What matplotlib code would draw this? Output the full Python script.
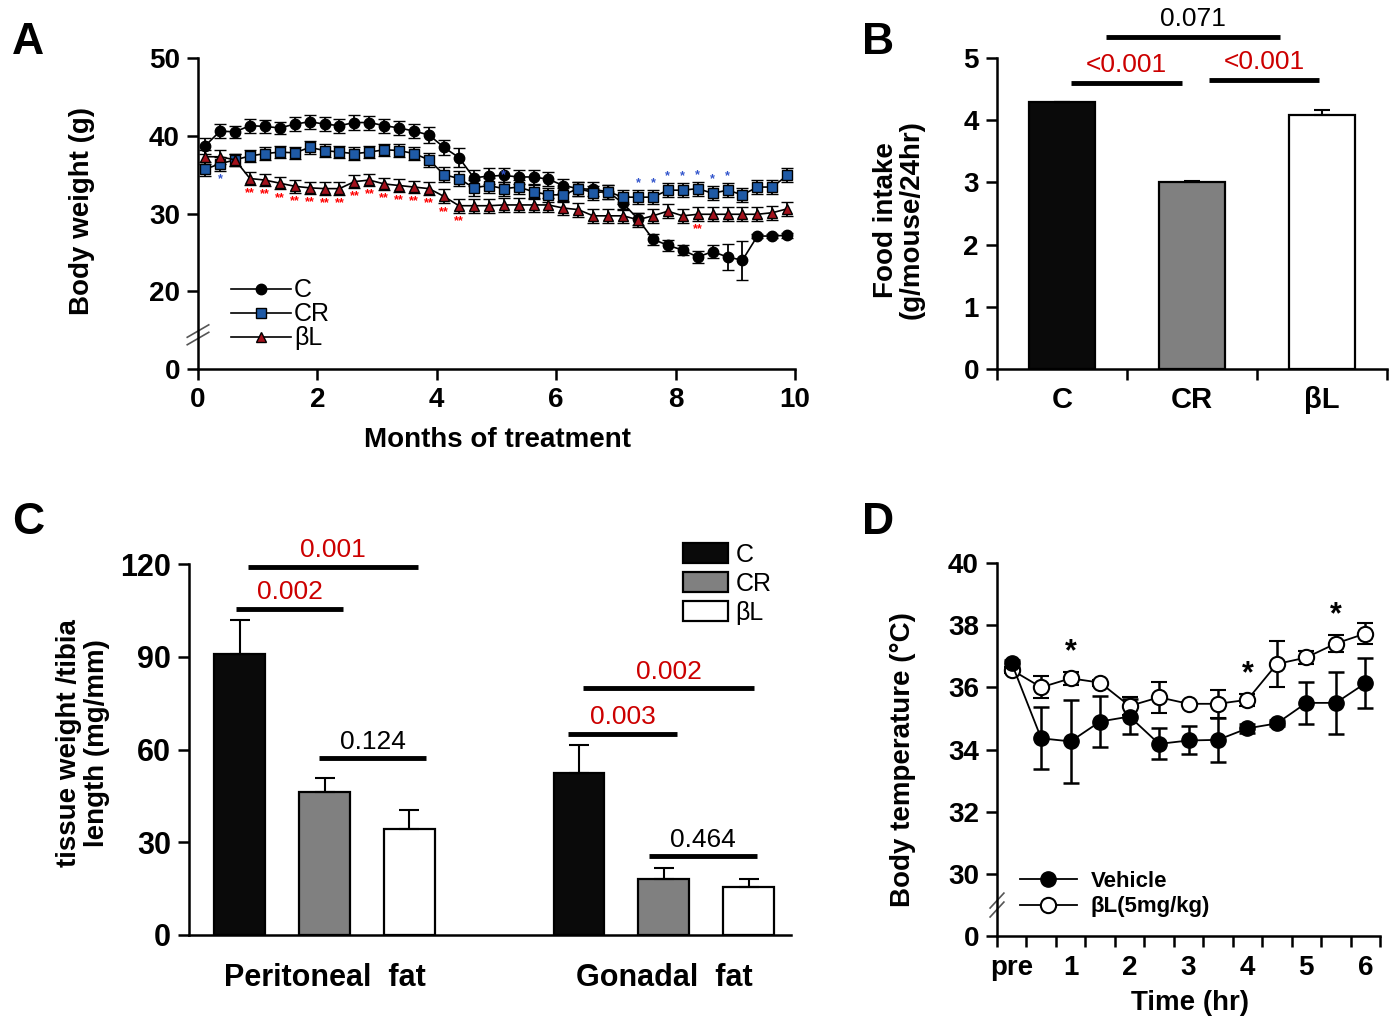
import numpy as np
import matplotlib
matplotlib.use('Agg')
import matplotlib.pyplot as plt
from matplotlib import font_manager
from matplotlib.lines import Line2D

# ---------------- data ----------------
# panel A: body weight over months of treatment
months = [0.12, 0.37, 0.62, 0.87, 1.12, 1.37, 1.62, 1.87, 2.12, 2.37,
          2.62, 2.87, 3.12, 3.37, 3.62, 3.87, 4.12, 4.37, 4.62, 4.87,
          5.12, 5.37, 5.62, 5.87, 6.12, 6.37, 6.62, 6.87, 7.12, 7.37,
          7.62, 7.87, 8.12, 8.37, 8.62, 8.87, 9.12, 9.37, 9.62, 9.87]
bw_c = [38.7, 40.6, 40.5, 41.3, 41.2, 41.0, 41.5, 41.8, 41.5, 41.3,
        41.7, 41.7, 41.3, 41.0, 40.6, 40.1, 38.5, 37.2, 34.6, 34.8,
        34.9, 34.7, 34.7, 34.4, 33.6, 33.2, 33.1, 32.8, 31.3, 29.3,
        26.7, 25.9, 25.3, 24.4, 25.1, 24.4, 24.0, 27.1, 27.1, 27.2]
bw_c_err = [1.0, 0.9, 0.8, 0.9, 0.8, 0.8, 0.9, 0.9, 0.9, 0.9,
            1.0, 0.9, 0.9, 0.9, 0.9, 1.0, 1.0, 1.2, 1.0, 1.0,
            0.9, 0.9, 0.9, 0.9, 0.9, 0.9, 0.9, 0.9, 0.9, 0.8,
            0.7, 0.7, 0.7, 0.8, 0.8, 1.7, 2.5, 0.3, 0.3, 0.3]
bw_cr = [35.7, 36.4, 36.9, 37.4, 37.7, 37.9, 37.8, 38.5, 38.1, 37.9,
         37.7, 37.9, 38.2, 38.1, 37.7, 36.9, 35.0, 34.5, 33.3, 33.6,
         33.2, 33.4, 32.8, 32.4, 32.4, 33.2, 32.7, 32.8, 32.1, 32.1,
         32.1, 33.0, 33.0, 33.2, 32.6, 33.0, 32.4, 33.4, 33.4, 34.9]
bw_cr_err = [0.9, 0.9, 0.8, 0.8, 0.8, 0.8, 0.8, 0.8, 0.8, 0.8,
             0.8, 0.8, 0.8, 0.8, 0.8, 0.9, 1.0, 1.0, 1.0, 1.0,
             0.9, 0.9, 0.9, 0.9, 0.9, 0.9, 0.9, 0.9, 0.9, 0.9,
             0.9, 0.9, 0.9, 0.9, 0.9, 0.9, 0.9, 0.9, 0.9, 0.9]
bw_bl = [37.3, 37.3, 36.9, 34.5, 34.3, 33.9, 33.5, 33.3, 33.2, 33.2,
         34.1, 34.3, 33.8, 33.6, 33.4, 33.2, 32.2, 31.0, 31.0, 31.0,
         31.1, 31.1, 31.1, 31.1, 30.7, 30.5, 29.7, 29.7, 29.7, 29.2,
         29.7, 30.3, 29.7, 29.9, 29.9, 29.9, 29.9, 29.9, 30.1, 30.6]
bw_bl_err = [0.9, 0.9, 0.8, 0.8, 0.8, 0.8, 0.8, 0.8, 0.8, 0.8,
             0.8, 0.8, 0.8, 0.8, 0.8, 0.8, 0.9, 0.9, 0.9, 0.9,
             0.9, 0.9, 0.9, 0.9, 0.9, 0.9, 0.9, 0.9, 0.9, 0.9,
             0.9, 0.9, 0.9, 0.9, 0.9, 0.9, 0.9, 0.9, 0.9, 0.9]
red_star_idx = [3, 4, 5, 6, 7, 8, 9, 10, 11, 12, 13, 14, 15, 16, 17, 33]
blue_star_idx = [20, 29, 30, 31, 32, 33, 34, 35]

# panel B: food intake
groups = ['C', 'CR', 'βL']
food = [4.29, 3.01, 4.09]
food_err = [0.0, 0.02, 0.08]

# panel C: fat pad weight / tibia length
fat_sites = ['Peritoneal  fat', 'Gonadal  fat']
fat_c = [90.8, 52.5]
fat_c_err = [11.0, 8.8]
fat_cr = [46.4, 18.1]
fat_cr_err = [4.3, 3.5]
fat_bl = [34.3, 15.4]
fat_bl_err = [6.2, 2.7]

# panel D: body temperature
time_lbl = ['pre', '1', '2', '3', '4', '5', '6']
time_hr = [0, 0.5, 1, 1.5, 2, 2.5, 3, 3.5, 4, 4.5, 5, 5.5, 6]
temp_veh = [36.77, 34.36, 34.26, 34.90, 35.06, 34.18, 34.29, 34.31, 34.68, 34.84, 35.50, 35.50, 36.13]
temp_veh_err = [0.10, 1.00, 1.34, 0.83, 0.55, 0.50, 0.45, 0.70, 0.15, 0.10, 0.67, 1.00, 0.80]
temp_bl = [36.56, 36.00, 36.29, 36.15, 35.40, 35.68, 35.47, 35.47, 35.60, 36.75, 36.96, 37.41, 37.73]
temp_bl_err = [0.10, 0.35, 0.20, 0.10, 0.30, 0.50, 0.05, 0.45, 0.20, 0.75, 0.22, 0.27, 0.35]
temp_star_x = [1, 4, 5.5]

# ---------------- style ----------------
plt.rcParams['font.family'] = ['Liberation Sans', 'DejaVu Sans']
plt.rcParams['axes.linewidth'] = 1.8
plt.rcParams['xtick.major.width'] = 1.8
plt.rcParams['ytick.major.width'] = 1.8
plt.rcParams['xtick.major.size'] = 8
plt.rcParams['ytick.major.size'] = 8

names = {f.name for f in font_manager.fontManager.ttflist}
NARROW = ['Liberation Sans Narrow'] if 'Liberation Sans Narrow' in names else []
NARROW = NARROW + ['Liberation Sans', 'DejaVu Sans']

W, H = 1393, 1032
fig = plt.figure(figsize=(W / 100, H / 100), dpi=100)


def px_axes(l, t, r, b):
    return fig.add_axes([l / W, 1 - b / H, (r - l) / W, (b - t) / H])


def ftext(x, y, s, **kw):
    fig.text(x / W, 1 - y / H, s, ha='center', va='center', **kw)


def clean(ax, size=20, family=None):
    ax.spines['top'].set_visible(False)
    ax.spines['right'].set_visible(False)
    ax.tick_params(direction='out', labelsize=size, pad=5)
    for lab in ax.get_xticklabels() + ax.get_yticklabels():
        lab.set_fontweight('bold')
        if family:
            lab.set_family(family)


def break_mark(ax, yfrac):
    for dy in (-0.012, 0.012):
        ax.plot([-0.018, 0.018], [yfrac + dy - 0.02, yfrac + dy + 0.02], color='#555555',
                lw=1.2, transform=ax.transAxes, clip_on=False)


def sig(ax, x0, x1, y, label, color, dy, size=19):
    ax.plot([x0, x1], [y, y], color='black', lw=3.5, clip_on=False, solid_capstyle='butt')
    ax.text((x0 + x1) / 2, y + dy, label, color=color, ha='center', va='bottom',
            fontsize=size, family=NARROW, clip_on=False)


# ---------------- A ----------------
axA = px_axes(198, 58, 795, 369)
series = [(bw_c, bw_c_err, 'o', 'black'), (bw_cr, bw_cr_err, 's', '#1f5aa6'),
          (bw_bl, bw_bl_err, '^', '#a3121c')]
for vals, err, mk, fc in series:
    axA.errorbar(months, vals, yerr=err, fmt='-', marker=mk, color='black', lw=1.2,
                 mfc=fc, mec='black', mew=1.0, ms=7.5, capsize=4.5, elinewidth=1.3, capthick=1.3)
for i in red_star_idx:
    axA.text(months[i], bw_bl[i] - bw_bl_err[i] - 0.3, '**', color='red', fontsize=9,
             ha='center', va='top', fontweight='bold', linespacing=0.6)
for i in blue_star_idx:
    axA.text(months[i], bw_cr[i] + bw_cr_err[i] + 0.1, '*', color='#3355cc', fontsize=9,
             ha='center', va='bottom', fontweight='bold')
axA.text(months[1], bw_cr[1] - bw_cr_err[1] - 0.3, '*', color='#3355cc', fontsize=9,
         ha='center', va='top', fontweight='bold')
axA.set_xlim(0, 10)
axA.set_ylim(10, 50)
axA.set_xticks([0, 2, 4, 6, 8, 10])
axA.set_yticks([10, 20, 30, 40, 50])
axA.set_yticklabels(['0', '20', '30', '40', '50'])
clean(axA)
break_mark(axA, 0.11)
hA = [Line2D([], [], color='black', lw=1.2, marker=mk, mfc=fc, mec='black', ms=7.5)
      for _, _, mk, fc in series]
axA.legend(hA, groups, loc='lower left', bbox_to_anchor=(0.035, 0.02), frameon=False,
           fontsize=18, handlelength=2.4, handletextpad=0.1, labelspacing=0.0, borderpad=0)
ftext(82, 211, 'Body weight (g)', rotation=90, fontsize=20, fontweight='bold')
ftext(497, 440, 'Months of treatment', fontsize=20, fontweight='bold')
ftext(28, 42, 'A', fontsize=32, fontweight='bold')

# ---------------- B ----------------
axB = px_axes(997, 58, 1387, 369)
xb = np.arange(len(groups))
axB.bar(xb, food, width=0.51, color=['#0a0a0a', '#808080', 'white'], edgecolor='black', lw=1.6)
axB.errorbar(xb, food, yerr=[np.zeros(3), food_err], fmt='none', ecolor='black',
             capsize=6, elinewidth=1.5, capthick=1.5)
axB.set_xlim(-0.5, 2.5)
axB.set_ylim(0, 5)
axB.set_xticks([-0.5, 0.5, 1.5, 2.5])
axB.set_xticklabels([])
axB.set_xticks(xb, minor=True)
axB.set_xticklabels(groups, minor=True)
axB.tick_params(axis='x', which='minor', length=0, pad=12, labelsize=21)
for lab in axB.get_xticklabels(minor=True):
    lab.set_fontweight('bold')
clean(axB)
sig(axB, 0.07, 0.92, 4.6, '<0.001', '#cc0000', 0.1)
sig(axB, 1.13, 1.98, 4.64, '<0.001', '#cc0000', 0.1)
sig(axB, 0.34, 1.68, 5.34, '0.071', 'black', 0.1)
ftext(899, 220, 'Food intake\n(g/mouse/24hr)', rotation=90, fontsize=20, fontweight='bold',
      linespacing=1.0)
ftext(878, 42, 'B', fontsize=32, fontweight='bold')

# ---------------- C ----------------
axC = px_axes(189, 564, 791, 935)
pos_c = [0, 4]
pos_cr = [1, 5]
pos_bl = [2, 6]
for pos, vals, err, col, lab in [(pos_c, fat_c, fat_c_err, '#0a0a0a', 'C'),
                                 (pos_cr, fat_cr, fat_cr_err, '#808080', 'CR'),
                                 (pos_bl, fat_bl, fat_bl_err, 'white', 'βL')]:
    axC.bar(pos, vals, width=0.6, color=col, edgecolor='black', lw=1.6, label=lab)
    axC.errorbar(pos, vals, yerr=[np.zeros(2), err], fmt='none', ecolor='black',
                 capsize=7, elinewidth=1.5, capthick=1.5)
axC.set_xlim(-0.6, 6.5)
axC.set_ylim(0, 120)
axC.set_yticks([0, 30, 60, 90, 120])
axC.set_xticks([1, 5])
axC.set_xticklabels(fat_sites)
clean(axC, size=22, family=NARROW)
axC.tick_params(axis='x', length=0, pad=20, labelsize=22)
sig(axC, 0.09, 2.1, 119, '0.001', '#cc0000', 1.5)
sig(axC, -0.05, 1.22, 105.5, '0.002', '#cc0000', 1.5)
sig(axC, 0.93, 2.2, 57.2, '0.124', 'black', 1.5)
sig(axC, 4.05, 6.06, 79.8, '0.002', '#cc0000', 1.5)
sig(axC, 3.87, 5.16, 65, '0.003', '#cc0000', 1.5)
sig(axC, 4.82, 6.1, 25.4, '0.464', 'black', 1.5)
axC.legend(loc='upper left', bbox_to_anchor=(0.8, 1.09), frameon=False,
           handlelength=1.8, handleheight=0.85, handletextpad=0.3, labelspacing=0.2,
           borderpad=0, prop={'family': NARROW, 'size': 18})
ftext(83, 743, 'tissue weight /tibia\nlength (mg/mm)', rotation=90, fontsize=20,
      fontweight='bold', linespacing=1.05)
ftext(28, 522, 'C', fontsize=32, fontweight='bold')

# ---------------- D ----------------
axD = px_axes(997, 563, 1380, 936)
axD.errorbar(time_hr, temp_bl, yerr=temp_bl_err, fmt='-o', color='black', lw=1.3,
             mfc='white', mec='black', mew=1.5, ms=11, capsize=6, elinewidth=1.8, capthick=1.8)
axD.errorbar(time_hr, temp_veh, yerr=temp_veh_err, fmt='-o', color='black', lw=1.3,
             mfc='black', mec='black', ms=11, capsize=6, elinewidth=1.8, capthick=1.8)
for x in temp_star_x:
    i = time_hr.index(x)
    axD.text(x, temp_bl[i] + temp_bl_err[i] + 0.15, '*', ha='center', va='bottom',
             fontsize=22, fontweight='bold')
axD.set_xlim(-0.25, 6.25)
axD.set_ylim(28, 40)
axD.set_yticks([28, 30, 32, 34, 36, 38, 40])
axD.set_yticklabels(['0', '30', '32', '34', '36', '38', '40'])
axD.set_xticks([-0.25 + 0.5 * k for k in range(14)])
axD.set_xticklabels([])
axD.set_xticks([0, 1, 2, 3, 4, 5, 6], minor=True)
axD.set_xticklabels(time_lbl, minor=True)
axD.tick_params(axis='x', which='minor', length=0, pad=14, labelsize=20)
for lab in axD.get_xticklabels(minor=True):
    lab.set_fontweight('bold')
clean(axD)
break_mark(axD, 0.083)
hD = [Line2D([], [], color='black', lw=1.3, marker='o', mfc='black', mec='black', ms=11),
      Line2D([], [], color='black', lw=1.3, marker='o', mfc='white', mec='black', mew=1.5, ms=11)]
axD.legend(hD, ['Vehicle', 'βL(5mg/kg)'], loc='lower left', bbox_to_anchor=(0.03, 0.02),
           frameon=False, handlelength=2.6, handletextpad=0.6, labelspacing=0.2, borderpad=0,
           prop={'weight': 'bold', 'size': 16})
ftext(903, 760, 'Body temperature (°C)', rotation=90, fontsize=20, fontweight='bold')
ftext(1190, 1003, 'Time (hr)', fontsize=20, fontweight='bold')
ftext(878, 522, 'D', fontsize=32, fontweight='bold')

fig.savefig('out.png', dpi=100)
